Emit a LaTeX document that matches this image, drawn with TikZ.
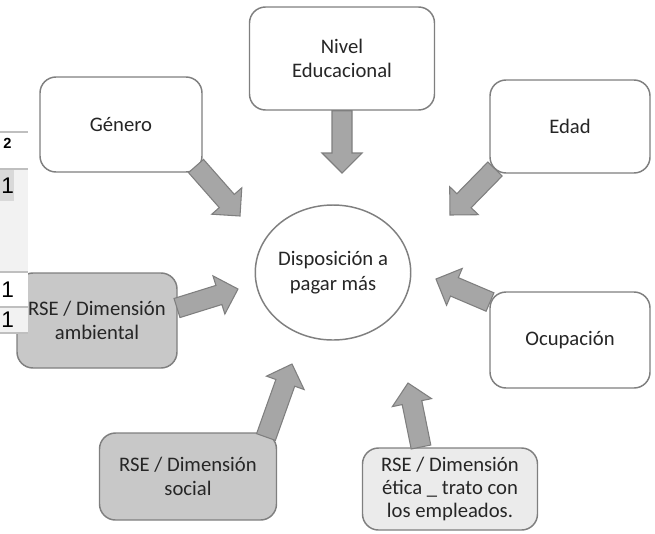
\documentclass[tikz,border=0pt]{standalone}
\usepackage{fontspec}
\setmainfont{Carlito}
\newfontfamily\tablafont{Liberation Sans}
\usetikzlibrary{calc}
\usetikzlibrary{shapes.geometric}

\definecolor{borde}{HTML}{7F7F7F}
\definecolor{gris}{HTML}{C8C8C8}
\definecolor{grisclaro}{HTML}{EBEBEB}
\definecolor{flechagris}{HTML}{A6A6A6}
\definecolor{tabla}{HTML}{F2F2F2}
\definecolor{tablalinea}{HTML}{BFBFBF}

% block arrow from #1 (start of shaft) to #2 (tip)
\newcommand{\blockarrow}[2]{%
	\coordinate (hb) at ($(#2)!15pt!(#1)$);
	\draw[flecha] ($(#1)!7.5pt!-90:(#2)$) -- ($(hb)!7.5pt!-90:(#2)$)
		-- ($(hb)!15pt!-90:(#2)$) -- (#2) -- ($(hb)!15pt!90:(#2)$)
		-- ($(hb)!7.5pt!90:(#2)$) -- ($(#1)!7.5pt!90:(#2)$) -- cycle;}

\begin{document}
\begin{tikzpicture}[x=0.75pt,y=-0.75pt,
	box/.style={draw=borde,line width=1.1pt,rounded corners=12pt,fill=white,
		align=center,text=black!85,font=\fontsize{15.5}{17.5}\selectfont,inner sep=0pt},
	centro/.style={draw=borde,line width=1.1pt,ellipse,fill=white,align=center,
		text=black!85,font=\fontsize{15.5}{18.5}\selectfont,inner sep=0pt,
		minimum width=115.5pt,minimum height=101.25pt},
	flecha/.style={draw=borde,line width=0.8pt,fill=flechagris,line join=miter}]
		\useasboundingbox (0,0) rectangle (655,533);

		% boxes
		\node[box,minimum width=121.5pt,minimum height=71.25pt] (genero) at (121,124.5) {Género};
		\node[box,minimum width=138.75pt,minimum height=77.25pt] (nivel) at (342,58.5) {Nivel\\Educacional};
		\node[box,minimum width=120pt,minimum height=69.75pt] (edad) at (570,126.5) {Edad};
		\node[box,minimum width=120pt,minimum height=72pt] (ocupacion) at (570,340) {Ocupación};
		\node[box,fill=gris,minimum width=120pt,minimum height=71.25pt] (ambiental) at (97,320.5) {RSE / Dimensión\\ambiental};
		\node[box,fill=gris,minimum width=132.75pt,minimum height=65.25pt] (social) at (188,476.5) {RSE / Dimensión\\social};
		\node[box,fill=grisclaro,minimum width=131.25pt,minimum height=61.5pt] (etica) at (450,489) {RSE / Dimensión\\ética \_ trato con\\los empleados.};

		\node[centro] (dispo) at (333,272.5) {Disposición a\\pagar más};

		% arrow ends
		\coordinate (g-s) at (196,166);
		\coordinate (g-t) at (240,216);
		\coordinate (e-s) at (495,169);
		\coordinate (e-t) at (450,215);
		\coordinate (o-s) at (490,302);
		\coordinate (o-t) at (436,279);
		\coordinate (a-s) at (177,308);
		\coordinate (a-t) at (238,289);
		\coordinate (s-s) at (266,437);
		\coordinate (s-t) at (292,364);
		\coordinate (t-s) at (421,447);
		\coordinate (t-t) at (408,383);
		\coordinate (n-t) at (342,173);

		\blockarrow{nivel.south}{n-t}
		\blockarrow{g-s}{g-t}
		\blockarrow{e-s}{e-t}
		\blockarrow{o-s}{o-t}
		\blockarrow{a-s}{a-t}
		\blockarrow{s-s}{s-t}
		\blockarrow{t-s}{t-t}

		% piece of a table at the left edge
		\fill[tabla] (0,169) rectangle (28,272);
		\fill[black!15] (0,170) rectangle (14,201);
		\fill[white] (0,272) rectangle (28,307);
		\fill[tabla] (0,307) rectangle (28,333);
		\draw[tablalinea,line width=1pt] (0,132) -- (28,132) (0,169) -- (28,169)
			(0,272) -- (28,272) (0,307) -- (28,307) (0,333) -- (28,333);
		\node[anchor=west,inner sep=0pt,font=\tablafont\bfseries\fontsize{11}{11}\selectfont] (t2) at (3,143) {2};
		\node[anchor=west,inner sep=0pt,font=\tablafont\fontsize{17}{17}\selectfont] (t1a) at (1,186) {1};
		\node[anchor=west,inner sep=0pt,font=\tablafont\fontsize{17}{17}\selectfont] (t1b) at (1,290) {1};
		\node[anchor=west,inner sep=0pt,font=\tablafont\fontsize{17}{17}\selectfont] (t1c) at (1,320) {1};
\end{tikzpicture}
\end{document}
